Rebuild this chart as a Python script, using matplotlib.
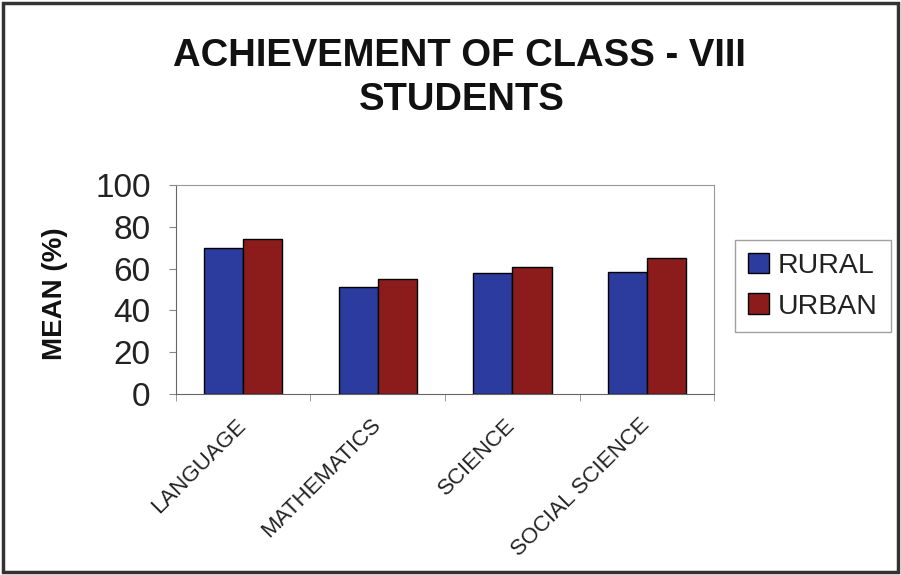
import matplotlib
matplotlib.use("Agg")
import matplotlib.pyplot as plt
import matplotlib.transforms as mtransforms
import numpy as np
from matplotlib.patches import Rectangle

categories = ["LANGUAGE", "MATHEMATICS", "SCIENCE", "SOCIAL SCIENCE"]
rural = [70, 51, 58, 58.5]
urban = [74, 55, 61, 65]
yticks = [0, 20, 40, 60, 80, 100]

plt.rcParams['font.family'] = ['Liberation Sans', 'DejaVu Sans']

fig = plt.figure(figsize=(9.01, 5.75), dpi=100)
ax = fig.add_axes([0.195, 0.315, 0.598, 0.363])

x = np.arange(len(categories))
w = 0.29
ax.bar(x - w/2, rural, w, color="#2b3b9e", edgecolor="black", linewidth=1.0, label="RURAL")
ax.bar(x + w/2, urban, w, color="#8c1c1c", edgecolor="black", linewidth=1.0, label="URBAN")

ax.set_xlim(-0.5, len(categories) - 0.5)
ax.set_ylim(0, 100)
ax.set_yticks(yticks)
ax.set_yticklabels([str(t) for t in yticks], fontsize=24, color="#222222")
ax.set_xticks(x)
ax.set_xticklabels(categories, rotation=45, ha="right", rotation_mode="anchor",
                   fontsize=16, color="#222222")
ax.tick_params(axis="x", length=0, pad=15)
offset = mtransforms.ScaledTranslation(-0.08, 0, fig.dpi_scale_trans)
for lbl in ax.get_xticklabels():
    lbl.set_transform(lbl.get_transform() + offset)
ax.set_xticks(np.arange(-0.5, len(categories), 1), minor=True)
ax.tick_params(axis="x", which="minor", length=5, color="#888888")
ax.tick_params(axis="y", length=5, color="#888888", pad=13)
for s in ["top", "right"]:
    ax.spines[s].set_color("#999999")
for s in ["left", "bottom"]:
    ax.spines[s].set_color("#666666")

ax.set_ylabel("MEAN (%)", fontsize=20, fontweight="bold", color="#111111")
ax.yaxis.set_label_coords(-0.20, 0.48)

fig.text(0.51, 0.903, "ACHIEVEMENT OF CLASS - VIII", ha="center", va="center",
         fontsize=27.5, fontweight="bold", color="#111111")
fig.text(0.513, 0.826, "STUDENTS", ha="center", va="center",
         fontsize=27.5, fontweight="bold", color="#111111")

leg = fig.legend(loc="upper left", bbox_to_anchor=(0.816, 0.583), fontsize=20.5,
                 frameon=True, fancybox=False, edgecolor="#888888",
                 handlelength=0.75, handleheight=0.75, handletextpad=0.3,
                 borderpad=0.45, labelspacing=0.5, borderaxespad=0)
for t in leg.get_texts():
    t.set_color("#222222")

fig.patches.append(Rectangle((0.003, 0.005), 0.994, 0.99, transform=fig.transFigure,
                             fill=False, edgecolor="#333333", linewidth=2.5))

fig.savefig("out.png", dpi=100)
